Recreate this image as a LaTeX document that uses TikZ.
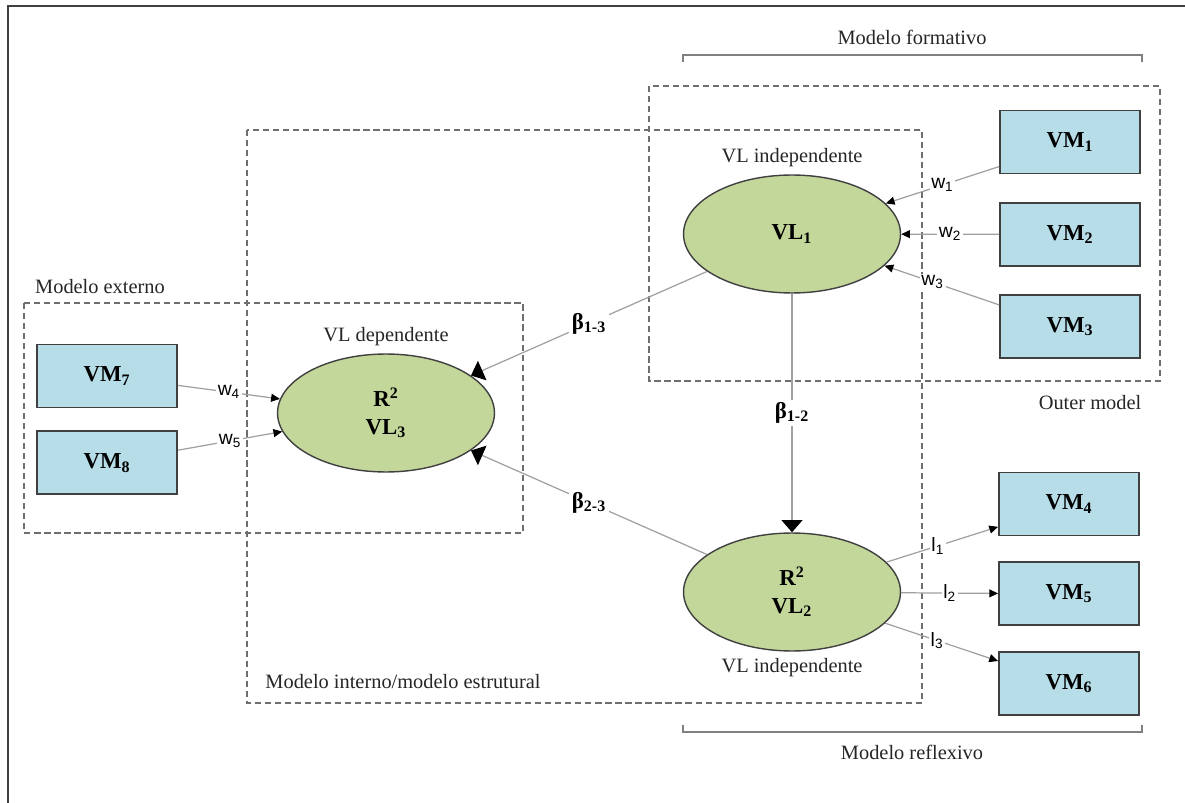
\documentclass[tikz,border=0pt]{standalone}
\usepackage{fontspec}
\setmainfont{Liberation Serif}
\setsansfont{Liberation Sans}
\usetikzlibrary{arrows.meta,positioning,shapes.geometric}
\definecolor{vmblue}{RGB}{183,221,232}
\definecolor{vlgreen}{RGB}{196,215,155}
\definecolor{edgegray}{RGB}{64,64,64}
\definecolor{linkgray}{RGB}{160,160,160}
\definecolor{dashgray}{RGB}{110,110,110}

\begin{document}
\begin{tikzpicture}[
    x=0.02cm, y=-0.02cm,
    node distance=0.55cm,
    vmbox/.style={rectangle,draw=edgegray,fill=vmblue,line width=1.1pt,
      minimum width=2.8cm,minimum height=1.26cm,font=\fontsize{13}{15}\selectfont\bfseries},
    vlnode/.style={ellipse,draw=edgegray,fill=vlgreen,line width=0.8pt,
      minimum width=4.34cm,minimum height=2.36cm,align=center,
      font=\fontsize{13}{16}\selectfont\bfseries},
    region/.style={draw=dashgray,line width=1.1pt,dash pattern=on 3.5pt off 2.2pt},
    tag/.style={font=\fontsize{11.6}{13}\selectfont,text=black!85},
    link/.style={draw=linkgray,line width=0.7pt,-{Triangle[length=5pt,width=4.5pt,color=black]}},
    struct/.style={draw=linkgray,line width=0.7pt,-{Triangle[length=7pt,width=12pt,color=black]}},
    wlab/.style={font=\sffamily\fontsize{11}{12}\selectfont,fill=white,inner sep=1pt},
    blab/.style={font=\fontsize{13}{15}\selectfont\bfseries,fill=white,inner sep=1.5pt},
    brace/.style={draw=gray,line width=1pt}
  ]
  \fill[white] (0,0) rectangle (1185,803);
  \useasboundingbox (0,0) rectangle (1185,803);

  % frame
  \draw[edgegray,line width=1.5pt] (8,803) -- (8,6) -- (1185,6);

  % model regions
  \draw[region] (247,130) rectangle (922,703);
  \draw[region] (649,86) rectangle (1160,381);
  \draw[region] (24,303) rectangle (523,533);

  % brackets
  \draw[brace] (683,62) -- (683,55) -- (1142,55) -- (1142,62);
  \draw[brace] (683,725) -- (683,732) -- (1142,732) -- (1142,725);

  \node[tag] (formlab) at (912,37) {Modelo formativo};
  \node[tag] (reflab) at (912,752) {Modelo reflexivo};
  \node[tag] (extlab) at (100,287) {Modelo externo};
  \node[tag] (outlab) at (1090,403) {Outer model};
  \node[tag] (intlab) at (403,682) {Modelo interno/modelo estrutural};

  % latent variables
  \node[vlnode] (vl1) at (792,234) {VL\textsubscript{1}};
  \node[vlnode] (vl2) at (792,592) {R\textsuperscript{2}\\VL\textsubscript{2}};
  \node[vlnode] (vl3) at (386,413) {R\textsuperscript{2}\\VL\textsubscript{3}};
  \node[tag,above=1pt of vl1] (vl1lab) {VL independente};
  \node[tag,below=0pt of vl2] (vl2lab) {VL independente};
  \node[tag,above=1pt of vl3] (vl3lab) {VL dependente};

  % manifest variables
  \node[vmbox] (vm1) at (1070,142) {VM\textsubscript{1}};
  \node[vmbox,below=of vm1] (vm2) {VM\textsubscript{2}};
  \node[vmbox,below=of vm2] (vm3) {VM\textsubscript{3}};
  \node[vmbox] (vm4) at (1069,504) {VM\textsubscript{4}};
  \node[vmbox,below=0.5cm of vm4] (vm5) {VM\textsubscript{5}};
  \node[vmbox,below=0.5cm of vm5] (vm6) {VM\textsubscript{6}};
  \node[vmbox] (vm7) at (107,376) {VM\textsubscript{7}};
  \node[vmbox,below=0.44cm of vm7] (vm8) {VM\textsubscript{8}};

  % outer weights and loadings
  \draw[link] ([yshift=-14pt]vm1.west) -- node[wlab]{w\textsubscript{1}} (vl1);
  \draw[link] (vm2) -- node[wlab]{w\textsubscript{2}} (vl1);
  \draw[link] ([yshift=12.5pt]vm3.west) -- node[wlab,pos=0.58]{w\textsubscript{3}} (vl1);
  \draw[link] (vm7) -- node[wlab]{w\textsubscript{4}} (vl3);
  \draw[link] (vm8) -- node[wlab]{w\textsubscript{5}} (vl3);
  \draw[link] (vl2) -- node[wlab,pos=0.46]{l\textsubscript{1}} ([yshift=-13pt]vm4.west);
  \draw[link] (vl2) -- node[wlab]{l\textsubscript{2}} (vm5);
  \draw[link] (vl2) -- node[wlab,pos=0.46]{l\textsubscript{3}} ([yshift=13pt]vm6.west);

  % structural paths
  \draw[struct] (vl1) -- node[blab]{β\textsubscript{1-3}} (vl3);
  \draw[struct] (vl2) -- node[blab]{β\textsubscript{2-3}} (vl3);
  \draw[struct] (vl1) -- node[blab]{β\textsubscript{1-2}} (vl2);
\end{tikzpicture}
\end{document}
